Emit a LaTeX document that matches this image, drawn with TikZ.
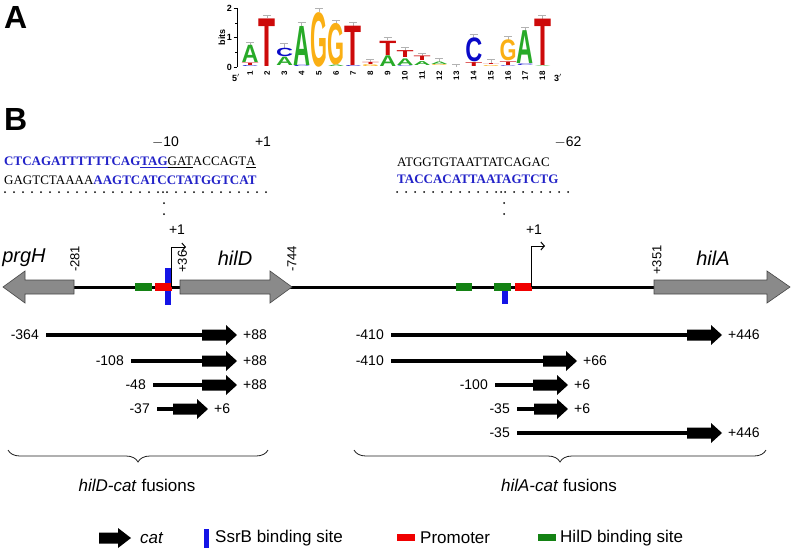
\documentclass[tikz,border=0pt]{standalone}
\usepackage{fontspec}
\setmainfont{Liberation Sans}
\newfontfamily\seqfont{Liberation Serif}
\usetikzlibrary{calc,arrows.meta,decorations.pathreplacing}
\definecolor{seqblue}{RGB}{35,35,200}
\definecolor{logoA}{RGB}{40,170,40}
\definecolor{logoC}{RGB}{10,10,200}
\definecolor{logoG}{RGB}{250,175,20}
\definecolor{logoT}{RGB}{205,10,10}
\definecolor{genegray}{RGB}{138,138,138}
\definecolor{siteblue}{RGB}{20,20,230}
\definecolor{sitered}{RGB}{240,0,0}
\definecolor{sitegreen}{RGB}{20,130,20}
\newcommand\fsz[1]{\fontsize{#1}{#1}\selectfont}
\newcommand\logoletter[4]{%
  \pgfmathsetmacro\LGx{250+17.2*(#1-1)-8.5}%
  \pgfmathsetmacro\LGy{67-29.5*#2}%
  \pgfmathsetmacro\LGh{max(29.5*(#3-#2)-0.5,0.6)}%
  \node[anchor=south west, inner sep=0] (L#1#4) at (\LGx,\LGy) {\resizebox*{17pt}{\LGh pt}{\bfseries\color{logo#4}#4}};%
}
\newcommand\errbar[3]{%
  \pgfmathsetmacro\EBx{250+17.2*(#1-1)}%
  \pgfmathsetmacro\EBa{67-29.5*#2}%
  \pgfmathsetmacro\EBb{67-29.5*#3}%
  \draw[errb] (\EBx,\EBa) -- (\EBx,\EBb) (\EBx-4,\EBb) -- (\EBx+4,\EBb);%
}
\newcommand\fusion[7]{%
  \node[flab, anchor=east] (#1l) at (#3-7,#2) {#6};
  \coordinate (#1b) at (#4,#2);
  \coordinate (#1t) at (#5,#2);
  \node[flab, anchor=west] (#1r) at (#5+6,#2) {#7};
  \draw[fline, shorten <=7pt] (#1l.east) -- (#1b);
  \fill (#4,#2-5.5) -- (#5-11,#2-5.5) -- (#5-11,#2-10) -- (#1t) -- (#5-11,#2+10) -- (#5-11,#2+5.5) -- (#4,#2+5.5) -- cycle;
}
\tikzset{
  errb/.style={draw=gray!60, line width=0.6pt},
  flab/.style={inner sep=0pt, font=\fsz{14}},
  fline/.style={line width=4pt},
  gene/.style={fill=genegray, draw=gray!55!black, line width=0.6pt},
  rot/.style={rotate=90, anchor=west, inner sep=0pt, font=\fsz{13}},
  gname/.style={inner sep=0pt, font=\fsz{20}\itshape},
  tss/.style={line width=1pt, -{Straight Barb[length=3.5pt,width=8pt]}},
  small/.style={inner sep=0pt, font=\fsz{14}},
  seq/.style={anchor=base west, inner sep=0pt, font=\seqfont\fsz{13}},
  brc/.style={draw=gray!25!black, line width=0.8pt, decorate, decoration={brace, amplitude=12pt, mirror}},
  leg/.style={anchor=west, inner sep=0pt, font=\fsz{17}},
}
\begin{document}
\begin{tikzpicture}[x=1pt,y=-1pt]
\useasboundingbox (0,0) rectangle (794,552);
% panel labels
\node[anchor=base west, inner sep=0, font=\fsz{32}\bfseries] (pA) at (4,28) {A};
\node[anchor=base west, inner sep=0, font=\fsz{32}\bfseries] (pB) at (4,130) {B};
% ---- logo ----
\draw[line width=0.7pt] (237,67) -- (237,7.5);
\foreach \b in {0,1,2} {
  \draw[line width=0.7pt] (233.5,67-29.5*\b) -- (237,67-29.5*\b);
  \node[anchor=east, inner sep=0, font=\fsz{9}\bfseries] (tk\b) at (232,67-29.5*\b) {\b};
}
\foreach \b in {0.5,1.5} \draw[line width=0.5pt] (235,67-29.5*\b) -- (237,67-29.5*\b);
\node[rotate=90, inner sep=0, font=\fsz{9}\bfseries] (bits) at (222,37) {bits};
\foreach \i in {1,...,18} {
  \node[rotate=90, anchor=east, inner sep=0, font=\fsz{8}\bfseries] (n\i) at (250+17.2*\i-17.2,71) {\i};
}
\node[inner sep=0, font=\fsz{9}\bfseries] (five) at (236,78) {5$'$};
\node[inner sep=0, font=\fsz{9}\bfseries] (three) at (558,78) {3$'$};
\errbar{1}{0.75}{0.85}
\errbar{2}{1.65}{1.75}
\errbar{3}{0.65}{0.8}
\errbar{4}{1.4}{1.5}
\errbar{5}{1.87}{1.98}
\errbar{6}{1.5}{1.6}
\errbar{7}{1.4}{1.5}
\errbar{8}{0.17}{0.25}
\errbar{9}{0.9}{1.0}
\errbar{10}{0.55}{0.66}
\errbar{11}{0.37}{0.48}
\errbar{12}{0.18}{0.3}
\errbar{13}{0.0}{0.1}
\errbar{14}{1.0}{1.1}
\errbar{15}{0.12}{0.25}
\errbar{16}{0.93}{1.05}
\errbar{17}{1.23}{1.33}
\errbar{18}{1.63}{1.75}
\logoletter{1}{0}{0.05}{C}
\logoletter{1}{0.05}{0.15}{T}
\logoletter{1}{0.15}{0.75}{A}
\logoletter{2}{0.02}{1.65}{T}
\logoletter{3}{0.05}{0.35}{A}
\logoletter{3}{0.35}{0.65}{C}
\logoletter{4}{0}{0.06}{C}
\logoletter{4}{0.06}{1.4}{A}
\logoletter{5}{0}{1.87}{G}
\logoletter{6}{0}{0.07}{A}
\logoletter{6}{0.07}{1.5}{G}
\logoletter{7}{0}{0.05}{C}
\logoletter{7}{0.05}{1.4}{T}
\logoletter{8}{0}{0.08}{G}
\logoletter{8}{0.08}{0.17}{T}
\logoletter{9}{0.02}{0.4}{A}
\logoletter{9}{0.4}{0.9}{T}
\logoletter{10}{0.02}{0.06}{C}
\logoletter{10}{0.06}{0.3}{A}
\logoletter{10}{0.3}{0.55}{T}
\logoletter{11}{0.05}{0.2}{A}
\logoletter{11}{0.2}{0.37}{T}
\logoletter{12}{0.03}{0.08}{G}
\logoletter{12}{0.08}{0.18}{A}
\logoletter{14}{0.02}{0.17}{T}
\logoletter{14}{0.17}{1.0}{C}
\logoletter{15}{0.02}{0.07}{G}
\logoletter{15}{0.07}{0.12}{T}
\logoletter{16}{0.02}{0.06}{C}
\logoletter{16}{0.06}{0.2}{T}
\logoletter{16}{0.2}{0.93}{G}
\logoletter{17}{0.03}{0.1}{C}
\logoletter{17}{0.1}{1.23}{A}
\logoletter{18}{0}{0.04}{A}
\logoletter{18}{0.04}{1.63}{T}
% ---- sequences ----
\node[small] (m10) at (165.5,142) {$-$10};
\node[small] (p1a) at (263,142) {+1};
\node[small] (m62) at (568,142) {$-$62};
\node[seq] (s1) at (4,165.5) {\textbf{\color{seqblue}CTCAGATTTTTTCAG\underline{TAG}}\underline{GAT}ACCAGT\underline{A}};
\node[seq] (s2) at (4,184) {GAGTCTAAAA\textbf{\color{seqblue}AAGTCATCCTATGGTCAT}};
\node[seq] (s3) at (397,166.5) {ATGGTGTAATTATCAGAC};
\node[seq] (s4) at (397,183.5) {\textbf{\color{seqblue}TACCACATTAATAGTCTG}};
\foreach \i in {0,...,29} \fill (5+9*\i,192) circle (1);
\fill (163,192) circle (1);
\foreach \i in {0,...,19} \fill (397+9*\i,192) circle (1);
\fill (501,192) circle (1);
\foreach \y in {203,214} { \fill (164,\y) circle (1); \fill (504,\y) circle (1); }
% ---- gene map ----
\draw[line width=3pt] (74,287) -- (655,287);
\filldraw[gene] (74,280) -- (25,280) -- (25,271) -- (3,287) -- (25,303) -- (25,294) -- (74,294) -- cycle;
\filldraw[gene] (180,280) -- (270,280) -- (270,271) -- (292,287) -- (270,303) -- (270,294) -- (180,294) -- cycle;
\filldraw[gene] (654,280) -- (767,280) -- (767,271) -- (790,287) -- (767,303) -- (767,294) -- (654,294) -- cycle;
\fill[sitegreen] (135,283) rectangle (152,291);
\fill[siteblue] (165,268) rectangle (171,305);
\fill[sitered] (155,283) rectangle (172,291);
\fill[sitegreen] (456,283) rectangle (472,291);
\fill[sitegreen] (494,283) rectangle (511,291);
\fill[siteblue] (502,291) rectangle (508,304);
\fill[sitered] (515,283) rectangle (532,291);
\coordinate (tssL0) at (171,287);
\coordinate (tssL1) at (171,247);
\coordinate (tssL2) at (186,247);
\draw[tss] (tssL0) -- (tssL1) -- (tssL2);
\coordinate (tssR0) at (531,287);
\coordinate (tssR1) at (531,246);
\coordinate (tssR2) at (545,246);
\draw[tss] (tssR0) -- (tssR1) -- (tssR2);
\node[small] (p1b) at (177,230) {+1};
\node[small] (p1c) at (534,230) {+1};
\node[rot] (r281) at (75,272) {-281};
\node[rot] (r36) at (182.5,273) {+36};
\node[rot] (r744) at (292,272) {-744};
\node[rot] (r351) at (657,275) {+351};
\node[gname] (prgH) at (24,258) {prgH};
\node[gname] (hilD) at (235,258) {hilD};
\node[gname] (hilA) at (713,258) {hilA};
% ---- fusions ----
\fusion{f1}{335}{46}{202}{237}{-364}{+88}
\fusion{f2}{361}{131}{202}{237}{-108}{+88}
\fusion{f3}{385}{153}{202}{237}{-48}{+88}
\fusion{f4}{409}{157}{173}{208}{-37}{+6}
\fusion{g1}{335}{391}{687}{722}{-410}{+446}
\fusion{g2}{361}{391}{543}{577}{-410}{+66}
\fusion{g3}{385}{495}{533}{568}{-100}{+6}
\fusion{g4}{409}{517}{534}{568}{-35}{+6}
\fusion{g5}{433}{517}{687}{722}{-35}{+446}
% ---- braces ----
\coordinate (bL0) at (8,450);
\coordinate (bL1) at (268,450);
\draw[brc] (bL0) -- (bL1);
\coordinate (bR0) at (354,450);
\coordinate (bR1) at (766,450);
\draw[brc] (bR0) -- (bR1);
\node[inner sep=0, font=\fsz{17}] (lD) at (137,485) {\textit{hilD-cat} fusions};
\node[inner sep=0, font=\fsz{17}] (lA) at (559,485) {\textit{hilA-cat} fusions};
% ---- legend ----
\fill (99,532.5) -- (118,532.5) -- (118,528) -- (131,538) -- (118,548) -- (118,543.5) -- (99,543.5) -- cycle;
\node[leg] (kcat) at (140,538) {\textit{cat}};
\fill[siteblue] (204,529) rectangle (209,548);
\node[leg] (kssrb) at (215,538) {SsrB binding site};
\fill[sitered] (397,534) rectangle (415,541);
\node[leg] (kprom) at (420,538) {Promoter};
\fill[sitegreen] (538,534) rectangle (556,541);
\node[leg] (khild) at (560,538) {HilD binding site};
\end{tikzpicture}
\end{document}
